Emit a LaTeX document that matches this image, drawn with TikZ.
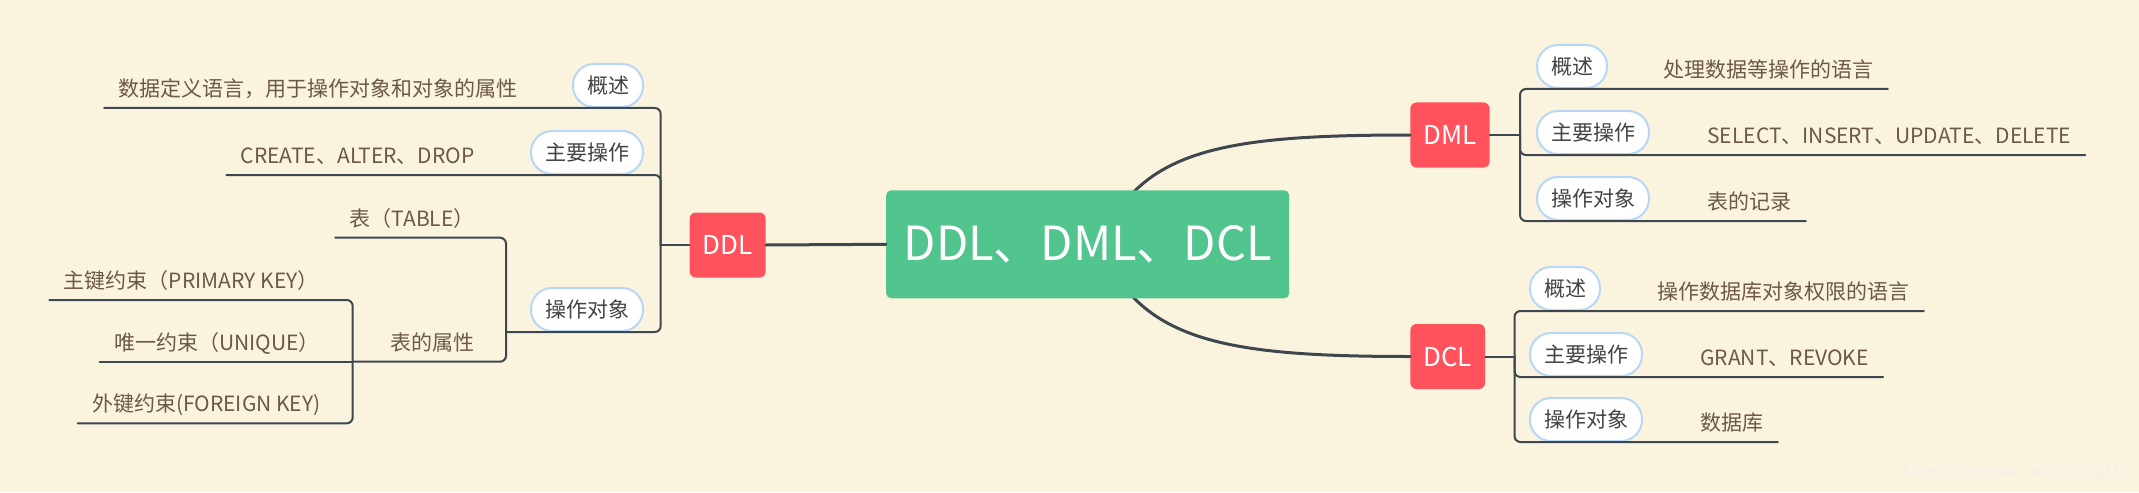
\documentclass[tikz,border=0pt]{standalone}
\usepackage{fontspec}
\setmainfont{Noto Sans CJK SC}
\newfontfamily\markfont{Liberation Sans}
\definecolor{bgcream}{RGB}{250,244,222}
\definecolor{rootgreen}{RGB}{82,196,142}
\definecolor{topicred}{RGB}{255,82,92}
\definecolor{linegray}{RGB}{62,70,78}
\definecolor{leafbrown}{RGB}{108,88,70}
\definecolor{tagblue}{RGB}{184,214,246}
\definecolor{tagtext}{RGB}{66,66,66}
\definecolor{markgray}{RGB}{241,239,233}
\begin{document}
\begin{tikzpicture}[x=0.5pt,y=-0.5pt,line join=round,line cap=round,
	root/.style={fill=rootgreen,rounded corners=2.5pt,text=white,font=\fontsize{23.5}{26}\selectfont,inner xsep=4pt,minimum width=201.5pt,minimum height=54pt},
	topic/.style={fill=topicred,rounded corners=3pt,text=white,font=\fontsize{13}{15}\selectfont,inner xsep=6.5pt,minimum height=32.5pt},
	tag/.style={draw=tagblue,line width=1pt,fill=white,rounded corners=10.5pt,text=tagtext,font=\fontsize{10.5}{12}\selectfont,inner xsep=7pt,inner ysep=0pt,minimum height=21.5pt},
	leaf/.style={text=leafbrown,font=\fontsize{10.5}{12}\selectfont,inner xsep=7pt,inner ysep=0pt,text depth=5.5pt},
	link/.style={draw=linegray,line width=1.5pt},
	branch/.style={draw=linegray,line width=1pt,rounded corners=3pt}]
	\fill[bgcream] (0,0) rectangle (2139,492);
	\useasboundingbox (0,0) rectangle (2139,492);
	\coordinate (rootc) at (1087.7,244.3);
	\node[topic,anchor=east] (ddl) at (766,245) {DDL};
	\node[topic,anchor=west] (dml) at (1410,135) {DML};
	\node[topic,anchor=west] (dcl) at (1410,356.5) {DCL};
	\draw[link] (1100,244) .. controls (1140,150) and (1220,135) .. (dml.west);
	\draw[link] (1100,245) .. controls (1140,340) and (1220,356.5) .. (dcl.west);
	\node[root] (root) at (rootc) {DDL、DML、DCL};
	\draw[link] (root.west) -- (ddl.east);
	% DDL
	\coordinate (ddlj) at (660.7,245);
	\coordinate (objj) at (506,332);
	\coordinate (attrj) at (352.7,361.7);
	\node[tag,anchor=south east] (ddlA) at (644,108) {概述};
	\node[tag,anchor=south east] (ddlB) at (644,175) {主要操作};
	\node[tag,anchor=south east] (ddlC) at (644,332) {操作对象};
	\node[leaf,anchor=south east] (ddlA1) at (532,108) {数据定义语言，用于操作对象和对象的属性};
	\node[leaf,anchor=south east] (ddlB1) at (489,175) {CREATE、ALTER、DROP};
	\node[leaf,anchor=south east] (tbl) at (489,237.7) {表（TABLE）};
	\node[leaf,anchor=south east] (attr) at (489,361.7) {表的属性};
	\node[leaf,anchor=south east] (pk) at (333,300) {主键约束（PRIMARY KEY）};
	\node[leaf,anchor=south east] (uq) at (334,361.7) {唯一约束（UNIQUE）};
	\node[leaf,anchor=south east] (fk) at (335,423.3) {外键约束(FOREIGN KEY)};
	\draw[branch] (ddl.west) -- (ddlj);
	\draw[branch] (ddlj) |- (ddlA1.south west);
	\draw[branch] (ddlj) |- (ddlB1.south west);
	\draw[branch] (ddlj) |- (ddlC.south west) -- (objj);
	\draw[branch] (objj) |- (tbl.south west);
	\draw[branch] (objj) |- (attrj);
	\draw[branch] (attrj) |- (pk.south west);
	\draw[branch] (attrj) -- (uq.south west);
	\draw[branch] (attrj) |- (fk.south west);
	% DML
	\coordinate (dmlj) at (1520,135);
	\node[tag,anchor=south west] (dmlA) at (1536,89) {概述};
	\node[tag,anchor=south west] (dmlB) at (1536,155) {主要操作};
	\node[tag,anchor=south west] (dmlC) at (1536,221) {操作对象};
	\node[leaf,anchor=south west] (dmlA1) at (1649,89) {处理数据等操作的语言};
	\node[leaf,anchor=south west] (dmlB1) at (1693,155) {SELECT、INSERT、UPDATE、DELETE};
	\node[leaf,anchor=south west] (dmlC1) at (1693,221) {表的记录};
	\draw[branch] (dml.east) -- (dmlj);
	\foreach \r in {A,B,C}
		\draw[branch] (dmlj) |- (dml\r1.south east);
	% DCL
	\coordinate (dclj) at (1514.5,356.5);
	\node[tag,anchor=south west] (dclA) at (1529,311) {概述};
	\node[tag,anchor=south west] (dclB) at (1529,377) {主要操作};
	\node[tag,anchor=south west] (dclC) at (1529,442) {操作对象};
	\node[leaf,anchor=south west] (dclA1) at (1643,311) {操作数据库对象权限的语言};
	\node[leaf,anchor=south west] (dclB1) at (1686,377) {GRANT、REVOKE};
	\node[leaf,anchor=south west] (dclC1) at (1686,442) {数据库};
	\draw[branch] (dcl.east) -- (dclj);
	\foreach \r in {A,B,C}
		\draw[branch] (dclj) |- (dcl\r1.south east);
	\node[anchor=west,text=markgray,font=\markfont\fontsize{8.1}{10}\selectfont,inner sep=0pt] (mark) at (1903,472) {https://blog.csdn.net/caiqing116};
\end{tikzpicture}
\end{document}
